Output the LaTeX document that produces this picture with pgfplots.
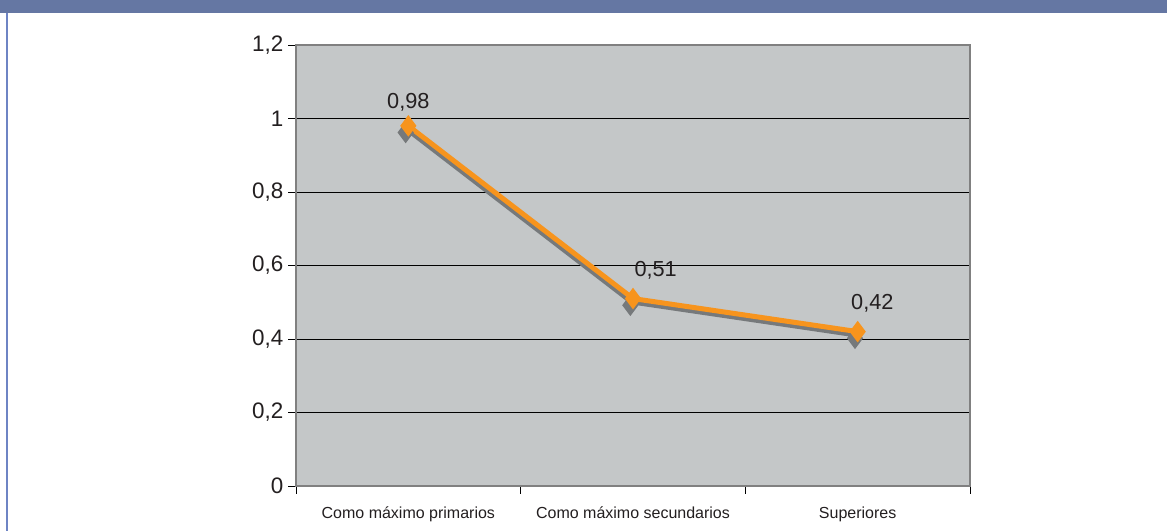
\documentclass[border=0pt]{standalone}
\usepackage{pgfplots}
\pgfplotsset{compat=1.18}
\usepackage{fontspec}
\setmainfont{Liberation Sans}
\definecolor{band}{HTML}{6577A3}
\definecolor{side}{HTML}{6E84C4}
\definecolor{plotbg}{HTML}{C4C7C8}
\definecolor{lineor}{HTML}{F7941D}
\definecolor{shadow}{HTML}{76797B}
\definecolor{frame}{HTML}{808080}
\definecolor{txt}{HTML}{231F20}
\begin{document}
\begin{tikzpicture}
\useasboundingbox (0,0) rectangle (875.25pt,398.25pt);
\fill[white] (0,0) rectangle (875.25pt,398.25pt);
\fill[band] (0,388.5pt) rectangle (875.25pt,398.25pt);
\fill[side] (4.2pt,0) rectangle (5.7pt,388.5pt);
\begin{axis}[
  at={(222pt,33.75pt)}, anchor=south west,
  scale only axis, width=505.5pt, height=330.75pt,
  xmin=-0.5, xmax=2.5, ymin=0, ymax=1.2,
  clip=false,
  axis background/.style={fill=plotbg},
  axis line style={draw=frame, line width=1.5pt},
  tick pos=left,
  ytick={0,0.2,0.4,0.6,0.8,1,1.2},
  yticklabels={0,{0,2},{0,4},{0,6},{0,8},1,{1,2}},
  yticklabel style={font=\fontsize{16.8}{17}\selectfont, text=txt},
  ymajorgrids,
  grid style={black, line width=0.7pt},
  xtick={-0.5,0.5,1.5,2.5},
  xticklabels={},
  extra x ticks={0,1,2},
  extra x tick labels={Como máximo primarios, Como máximo secundarios, Superiores},
  extra x tick style={major tick length=0pt, xticklabel style={font=\fontsize{12}{12}\selectfont, text=txt, yshift=-12pt}},
  tick align=outside,
  major tick length=6pt,
  tick style={black, line width=0.6pt},
  /pgf/number format/assume math mode=true,
]
\addplot[shadow, line width=3.75pt, mark=diamond*, mark size=5pt, mark options={shadow},
  transform canvas={shift={(-1pt,-2.5pt)}}] coordinates {(0,0.98) (1,0.51) (2,0.42)};
\addplot[lineor, line width=3.75pt, mark=diamond*, mark size=5pt, mark options={lineor}]
  coordinates {(0,0.98) (1,0.51) (2,0.42)};
\node[font=\fontsize{16.3}{16}\selectfont, text=txt] at (axis cs:0,0.98) [yshift=18pt] {0,98};
\node[font=\fontsize{16.3}{16}\selectfont, text=txt] at (axis cs:1,0.51) [xshift=17pt, yshift=21pt] {0,51};
\node[font=\fontsize{16.3}{16}\selectfont, text=txt] at (axis cs:2,0.42) [xshift=11pt, yshift=21pt] {0,42};
\end{axis}
\end{tikzpicture}
\end{document}
